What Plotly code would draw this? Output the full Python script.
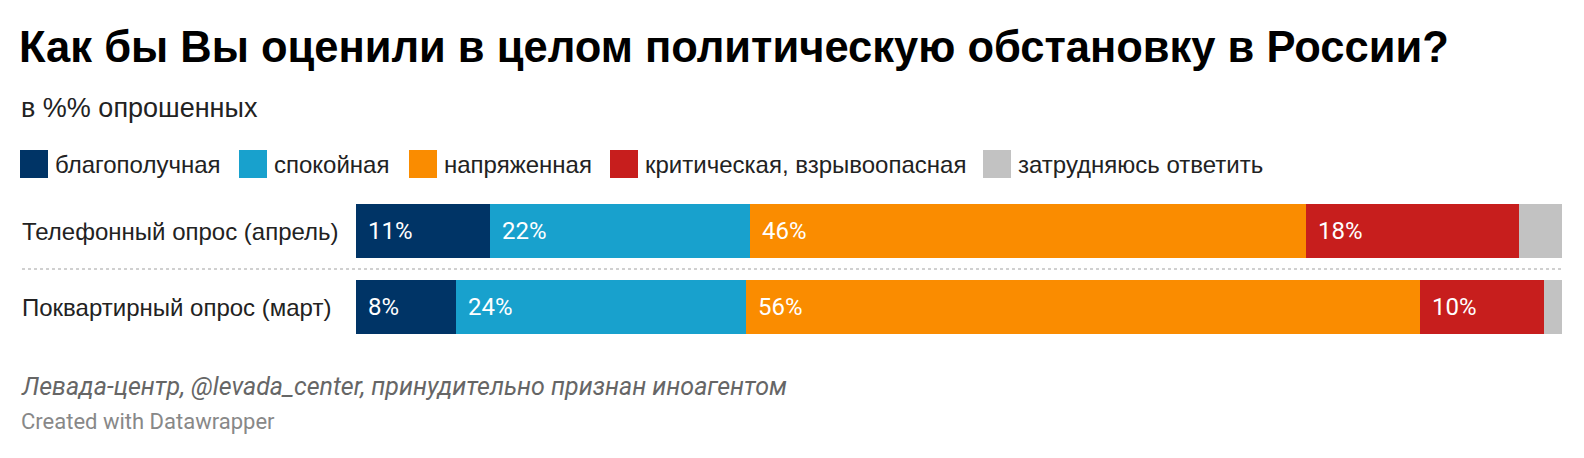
import plotly.graph_objects as go

# ---- data ----
rows = ["Телефонный опрос (апрель)", "Поквартирный опрос (март)"]
series_names = ["благополучная", "спокойная", "напряженная",
                "критическая, взрывоопасная", "затрудняюсь ответить"]
blagopoluchnaya = [11.1, 8.3]
spokoinaya = [21.6, 24.0]
napryazhennaya = [46.1, 55.9]
kriticheskaya = [17.6, 10.3]
zatrudnyayus = [3.6, 1.5]
series_values = [blagopoluchnaya, spokoinaya, napryazhennaya, kriticheskaya, zatrudnyayus]

title = "Как бы Вы оценили в целом политическую обстановку в России?"
subtitle = "в %% опрошенных"
source = "Левада-центр, @levada_center, принудительно признан иноагентом"
credit = "Created with Datawrapper"

# ---- styles ----
colors = ["#003466", "#18a1cd", "#fa8c00", "#c71e1d", "#c2c2c2"]
OFF = 8  # default page body margin
W, H = 1584 - OFF, 458 - OFF
ML, MR, MT, MB = 356 - OFF, 22, 193 - OFF, 113
PW, PH = W - ML - MR, H - MT - MB
SANS = "Liberation Sans, Arial, sans-serif"
ROBOTO = "Roboto, sans-serif"


def px_x(px):
    return (px - OFF - ML) / PW


def px_y(py):
    return (H - MB - (py - OFF)) / PH


fig = go.Figure()
for name, vals, col in zip(series_names, series_values, colors):
    fig.add_trace(go.Bar(
        y=rows, x=vals, name=name, orientation="h",
        marker=dict(color=col, line=dict(width=0)),
        showlegend=False, hoverinfo="skip",
    ))

annotations = []
shapes = []

# value labels inside bars
for r_i, row in enumerate(rows):
    base = 0.0
    for vals in series_values:
        v = vals[r_i]
        if v >= 5:
            annotations.append(dict(
                x=base, y=row, xref="x", yref="y", xanchor="left", yanchor="middle",
                xshift=10, text=f"{round(v)}%", showarrow=False,
                font=dict(family=ROBOTO, size=24, color="#ffffff"),
            ))
        base += v

# row labels
for row in rows:
    annotations.append(dict(
        x=px_x(20), y=row, xref="paper", yref="y", xanchor="left", yanchor="middle",
        text=row, showarrow=False, font=dict(family=SANS, size=24, color="#222222"),
    ))

# dotted separator between rows
shapes.append(dict(type="line", xref="paper", yref="y", x0=px_x(22), x1=1,
                   y0=0.5, y1=0.5, line=dict(color="#d0d0d0", width=2, dash="dot")))

# custom legend
legend_x = [20, 239, 409, 610, 983]
for name, col, lx in zip(series_names, colors, legend_x):
    shapes.append(dict(type="rect", xref="paper", yref="paper",
                       x0=px_x(lx), x1=px_x(lx + 28), y0=px_y(178), y1=px_y(150),
                       fillcolor=col, line=dict(width=0)))
    annotations.append(dict(
        x=px_x(lx + 33), y=px_y(164), xref="paper", yref="paper",
        xanchor="left", yanchor="middle", text=name, showarrow=False,
        font=dict(family=SANS, size=24, color="#222222"),
    ))

# title / subtitle / footer
annotations += [
    dict(x=px_x(17), y=px_y(47), xref="paper", yref="paper", xanchor="left", yanchor="middle",
         text=f"<b>{title}</b>", showarrow=False,
         font=dict(family=SANS, size=43.5, color="#000000")),
    dict(x=px_x(19), y=px_y(108), xref="paper", yref="paper", xanchor="left", yanchor="middle",
         text=subtitle, showarrow=False,
         font=dict(family=SANS, size=27, color="#222222")),
    dict(x=px_x(19), y=px_y(386), xref="paper", yref="paper", xanchor="left", yanchor="middle",
         text=f"<i>{source}</i>", showarrow=False,
         font=dict(family=ROBOTO, size=25, color="#666666")),
    dict(x=px_x(19), y=px_y(421), xref="paper", yref="paper", xanchor="left", yanchor="middle",
         text=credit, showarrow=False,
         font=dict(family=ROBOTO, size=22, color="#888888")),
]

fig.update_layout(
    width=W, height=H,
    margin=dict(l=ML, r=MR, t=MT, b=MB, pad=0),
    barmode="stack", bargap=0.29,
    paper_bgcolor="#ffffff", plot_bgcolor="#ffffff",
    xaxis=dict(range=[0, 100], visible=False, fixedrange=True),
    yaxis=dict(autorange="reversed", visible=False, fixedrange=True),
    annotations=annotations, shapes=shapes,
    showlegend=False,
)

fig.write_html("out.html")
